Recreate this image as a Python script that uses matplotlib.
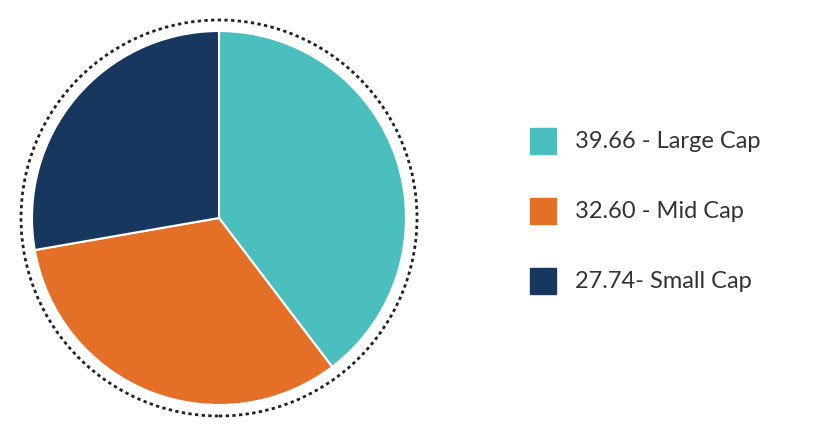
import matplotlib.pyplot as plt
from matplotlib.patches import Circle, Rectangle

values = [39.66, 32.60, 27.74]
labels = ["39.66 - Large Cap", "32.60 - Mid Cap", "27.74- Small Cap"]
colors = ["#4BBFBD", "#E46F27", "#18375E"]

W, H = 824, 432
fig = plt.figure(figsize=(W / 100, H / 100), dpi=100)

# pie axes: 400x400 px centred on (219, 218 from top)
ax = fig.add_axes([19 / W, (H - 218 - 200) / H, 400 / W, 400 / H])
ax.set_xlim(-1, 1)
ax.set_ylim(-1, 1)
ax.set_aspect("equal")
ax.axis("off")

ax.pie(values, colors=colors, startangle=90, counterclock=False,
       radius=187 / 200, center=(0, 0),
       wedgeprops=dict(edgecolor="white", linewidth=1.5))
ax.set_xlim(-1, 1)
ax.set_ylim(-1, 1)
ax.add_patch(Circle((0, 0), 198 / 200, fill=False, edgecolor="#222222",
                    linewidth=2, linestyle=(0, (1.2, 1.2))))

# legend
for i, (lab, c) in enumerate(zip(labels, colors)):
    yc = 141 + 70 * i
    fig.patches.append(Rectangle(((530) / W, (H - yc - 13) / H), 26 / W, 26 / H,
                                 transform=fig.transFigure, color=c))
    fig.text(575 / W, (H - yc) / H, lab, fontsize=17, color="#333333",
             va="center", ha="left", family="Lato")

fig.savefig("out.png", dpi=100)
